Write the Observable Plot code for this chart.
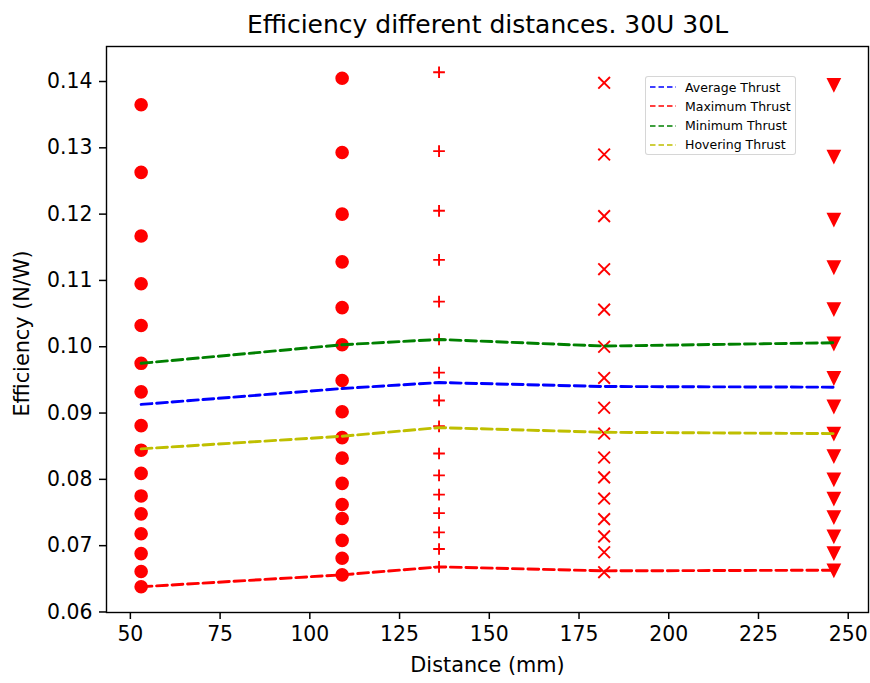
<!DOCTYPE html>
<html>
<head>
<meta charset="utf-8">
<script src="https://cdn.jsdelivr.net/npm/d3@7"></script>
<script src="https://cdn.jsdelivr.net/npm/@observablehq/plot@0.6"></script>
<style>
  html, body { margin: 0; padding: 0; background: #fff; }
  #wrap { position: relative; width: 870px; height: 683px; font-family: "DejaVu Sans", sans-serif; }
  #wrap svg g[aria-label$="tick"] path, #wrap svg .tick line { stroke-width: 1.5px; }
  #legend { position: absolute; left: 645px; top: 76px; width: 151px; height: 79px;
            border: 1px solid rgba(204,204,204,0.8); border-radius: 3px; background: rgba(255,255,255,0.8);
            box-sizing: border-box; font-size: 12.5px; color: #000; }
  .row { position: absolute; left: 0; height: 19px; display: flex; align-items: center; }
  .row svg { margin-left: 4px; margin-right: 9px; }
</style>
</head>
<body>
<div id="wrap"></div>
<script>
// ---- data ----
const distances = [53, 109, 136, 182, 246];
const eff53  = [0.1365, 0.1263, 0.1167, 0.1095, 0.1032, 0.0975, 0.0932, 0.0881, 0.0844, 0.0809, 0.0775, 0.0748, 0.0718, 0.0688, 0.0661, 0.0638];
const eff109 = [0.1405, 0.1293, 0.1200, 0.1128, 0.1059, 0.1003, 0.0949, 0.0902, 0.0863, 0.0832, 0.0794, 0.0762, 0.0741, 0.0708, 0.0681, 0.0656];
const eff136 = [0.1414, 0.1295, 0.1205, 0.1131, 0.1068, 0.1011, 0.0961, 0.0919, 0.0880, 0.0839, 0.0806, 0.0777, 0.0749, 0.0720, 0.0695, 0.0668];
const eff182 = [0.1398, 0.1290, 0.1197, 0.1117, 0.1056, 0.1000, 0.0953, 0.0908, 0.0869, 0.0833, 0.0803, 0.0771, 0.0740, 0.0714, 0.0690, 0.0660];
const eff246 = [0.1395, 0.1287, 0.1192, 0.1120, 0.1057, 0.1005, 0.0953, 0.0910, 0.0869, 0.0835, 0.0800, 0.0771, 0.0743, 0.0714, 0.0689, 0.0663];
const averageThrust  = [0.0913, 0.0937, 0.0946, 0.0940, 0.0939];
const maximumThrust  = [0.0638, 0.0656, 0.0668, 0.0662, 0.0663];
const minimumThrust  = [0.0975, 0.1003, 0.1011, 0.1001, 0.1006];
const hoveringThrust = [0.0846, 0.0865, 0.0878, 0.0871, 0.0869];
const seriesNames = ["Average Thrust", "Maximum Thrust", "Minimum Thrust", "Hovering Thrust"];
const xTicks = [50, 75, 100, 125, 150, 175, 200, 225, 250];
const yTicks = [0.06, 0.07, 0.08, 0.09, 0.10, 0.11, 0.12, 0.13, 0.14];
const titleText = "Efficiency different distances. 30U 30L";
const xLabel = "Distance (mm)";
const yLabel = "Efficiency (N/W)";

// ---- derived tables ----
const columns = [eff53, eff109, eff136, eff182, eff246];
const points = columns.flatMap((vals, i) => vals.map(v => ({x: distances[i], y: v, col: i})));
const seriesVals = [averageThrust, maximumThrust, minimumThrust, hoveringThrust];
const seriesColors = ["#0000ff", "#ff0000", "#008000", "#bfbf00"];
const lines = seriesVals.flatMap((vals, s) => vals.map((v, i) => ({x: distances[i], y: v, s})));

// matplotlib-like autoscale margins (5%)
const allY = points.map(d => d.y).concat(lines.map(d => d.y));
const [ymin, ymax] = d3.extent(allY);
const [xmin, xmax] = d3.extent(distances);
const xDomain = [xmin - 0.05 * (xmax - xmin), xmax + 0.05 * (xmax - xmin)];
const yDomain = [ymin - 0.05 * (ymax - ymin), ymax + 0.05 * (ymax - ymin)];

// custom matplotlib-like symbols
const plusSym = {draw(c, size) { const a = Math.sqrt(size / Math.PI); c.moveTo(-a, 0); c.lineTo(a, 0); c.moveTo(0, -a); c.lineTo(0, a); }};
const timesSym = {draw(c, size) { const a = Math.sqrt(size / Math.PI); c.moveTo(-a, -a); c.lineTo(a, a); c.moveTo(-a, a); c.lineTo(a, -a); }};
const triDown = {draw(c, size) { const a = Math.sqrt(size / Math.PI); c.moveTo(-a, -a); c.lineTo(a, -a); c.lineTo(0, a); c.closePath(); }};

const red = "#ff0000";
const dash = "10.8,4.7";

const chart = Plot.plot({
  width: 870,
  height: 683,
  marginLeft: 106,
  marginRight: 2,
  marginTop: 46,
  marginBottom: 71,
  style: {fontFamily: "DejaVu Sans", fontSize: "20.4px", color: "black", background: "white", overflow: "visible"},
  x: {domain: xDomain, ticks: xTicks, tickSize: 7, tickPadding: 7, label: null},
  y: {domain: yDomain, ticks: yTicks, tickSize: 7, tickPadding: 7, tickFormat: d3.format(".2f"), label: null},
  marks: [
    Plot.dot(points.filter(d => d.col === 0), {x: "x", y: "y", symbol: "circle", r: 5.85, fill: red, stroke: red, strokeWidth: 1.9}),
    Plot.dot(points.filter(d => d.col === 1), {x: "x", y: "y", symbol: "circle", r: 5.85, fill: red, stroke: red, strokeWidth: 1.9}),
    Plot.dot(points.filter(d => d.col === 2), {x: "x", y: "y", symbol: plusSym, r: 5.85, fill: "none", stroke: red, strokeWidth: 1.9}),
    Plot.dot(points.filter(d => d.col === 3), {x: "x", y: "y", symbol: timesSym, r: 5.85, fill: "none", stroke: red, strokeWidth: 1.9}),
    Plot.dot(points.filter(d => d.col === 4), {x: "x", y: "y", symbol: triDown, r: 5.85, fill: red, stroke: red, strokeWidth: 1.9, strokeLinejoin: "miter"}),
    ...seriesVals.map((_, s) => Plot.line(lines.filter(d => d.s === s), {x: "x", y: "y", stroke: seriesColors[s], strokeWidth: 2.9, strokeDasharray: dash})),
    Plot.frame({stroke: "black", strokeWidth: 1.4}),
    Plot.text([titleText], {frameAnchor: "top", lineAnchor: "middle", textAnchor: "middle", dy: -22, fontSize: 25, fill: "black"}),
    Plot.text([xLabel], {frameAnchor: "bottom", lineAnchor: "middle", textAnchor: "middle", dy: 53, fontSize: 20.8, fill: "black"}),
    Plot.text([yLabel], {frameAnchor: "left", lineAnchor: "middle", textAnchor: "middle", dx: -84, dy: 4, rotate: -90, fontSize: 20.8, fill: "black"})
  ]
});

const wrap = document.getElementById("wrap");
wrap.appendChild(chart);

// legend
const legend = document.createElement("div");
legend.id = "legend";
seriesNames.forEach((name, i) => {
  const row = document.createElement("div");
  row.className = "row";
  row.style.top = (0.5 + i * 19.3) + "px";
  row.innerHTML = `<svg width="26" height="6"><line x1="0" y1="3" x2="26" y2="3" stroke="${seriesColors[i]}" stroke-width="1.5" stroke-dasharray="5.5,3"/></svg><span>${name}</span>`;
  legend.appendChild(row);
});
wrap.appendChild(legend);
</script>
</body>
</html>
